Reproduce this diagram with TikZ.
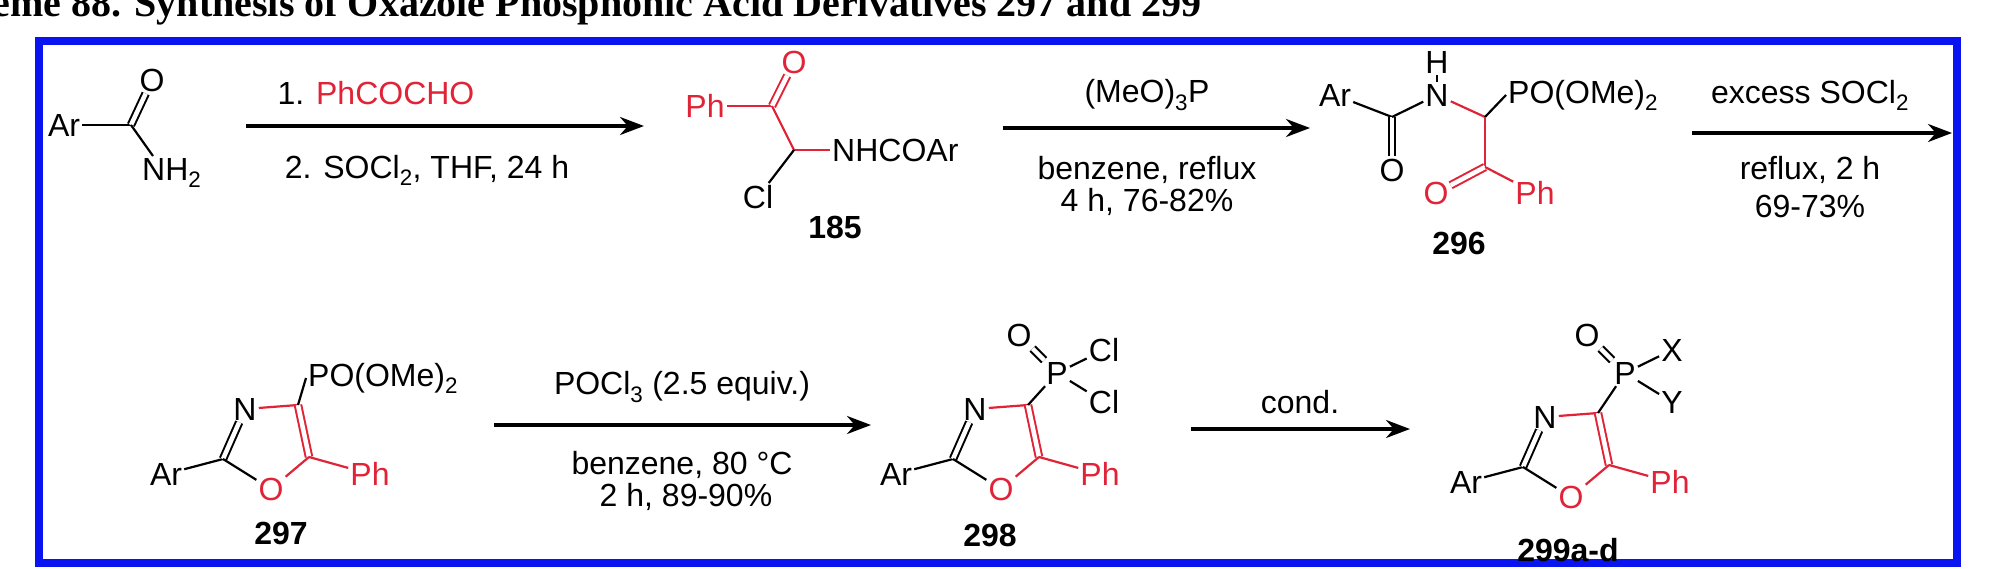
\documentclass[tikz,border=0pt]{standalone}
\usepackage{fontspec}
\setmainfont{Liberation Sans}
\newfontfamily\titlefont{Liberation Serif}
\usetikzlibrary{arrows.meta}
\definecolor{chemred}{RGB}{225,35,55}
\definecolor{frameblue}{RGB}{10,20,240}
\newcommand\fs{\fontsize{32}{36}\selectfont}
\tikzset{
 atom/.style={font=\fs, inner sep=2pt},
 lbl/.style={font=\fs\bfseries, inner sep=0pt},
 cond/.style={font=\fs, inner sep=0pt},
 bond/.style={line width=2.2pt},
 rb/.style={bond, draw=chemred},
 dbl/.style={double, double distance=4.5pt, line width=2pt},
 rxn/.style={line width=3.2pt, -{Stealth[length=24pt,width=18pt]}},
}
\newcommand\oxa[3]{%
\begin{scope}[shift={(#2,#3)}]
 \node[atom] (#1ar) at (1466,482) {Ar};
 \coordinate (#1c2) at (1523,467);
 \node[atom] (#1n) at (1545,417) {N};
 \coordinate (#1c4) at (1598,413);
 \coordinate (#1c5) at (1609,465);
 \node[atom,text=chemred] (#1o) at (1571,497) {O};
 \node[atom,text=chemred] (#1ph) at (1670,482) {Ph};
 \draw[bond] (#1ar)--(#1c2);
 \draw[dbl] (#1c2)--(#1n);
 \draw[rb] (#1n)--(#1c4);
 \draw[dbl,draw=chemred] (#1c4)--(#1c5);
 \draw[rb] (#1c5)--(#1o);
 \draw[bond] (#1o)--(#1c2);
 \draw[rb] (#1c5)--(#1ph);
\end{scope}}
\newcommand\pgrp[5]{%
\begin{scope}[shift={(#2,#3)}]
 \node[atom] (#1p) at (1625,373) {P};
 \node[atom] (#1po) at (1587,335) {O};
 \node[atom] (#1x) at (1672,350) {#4};
 \node[atom] (#1y) at (1672,402) {#5};
\end{scope}
 \draw[bond] (#1c4)--(#1p);
 \draw[dbl] (#1p)--(#1po);
 \draw[bond] (#1p)--(#1x);
 \draw[bond] (#1p)--(#1y);}
\begin{document}
\begin{tikzpicture}[x=1pt,y=-1pt]
\useasboundingbox (0,0) rectangle (1997,568);
\node[font=\titlefont\fontsize{40}{44}\selectfont\bfseries, anchor=base west, inner sep=0pt] (title) at (-70,16) {Scheme 88. Synthesis of Oxazole Phosphonic Acid Derivatives 297 and 299};
\draw[frameblue, line width=8pt] (39,41) rectangle (1957,563);
% amide
\node[atom] (ar1) at (64,125) {Ar};
\coordinate (c1) at (131,125);
\node[atom] (o1) at (152,80) {O};
\node[atom, anchor=west] (n1) at (140,173) {NH\textsubscript{2}};
\coordinate (n1b) at (153,156);
\draw[bond] (ar1)--(c1);
\draw[dbl] (c1)--(o1);
\draw[bond] (c1)--(n1b);
% arrow 1
\coordinate (a1s) at (246,126); \coordinate (a1e) at (644,126);
\draw[rxn] (a1s)--(a1e);
\node[cond] (t1a) at (376,93) {1. \textcolor{chemred}{PhCOCHO}};
\node[cond] (t1b) at (427,170) {2. SOCl\textsubscript{2}, THF, 24 h};
% 185
\node[atom,text=chemred] (ph2) at (705,106) {Ph};
\coordinate (c2) at (772,106);
\node[atom,text=chemred] (o2) at (794,62) {O};
\coordinate (ch2) at (794,150);
\node[atom, anchor=west] (nh2) at (830,150) {NHCOAr};
\node[atom] (cl2) at (758,197) {Cl};
\draw[rb] (ph2)--(c2);
\draw[dbl,draw=chemred] (c2)--(o2);
\draw[rb] (c2)--(ch2);
\draw[rb] (ch2)--(nh2);
\draw[bond] (ch2)--(cl2);
\node[lbl] (l185) at (835,227) {185};
% arrow 2
\coordinate (a2s) at (1003,128); \coordinate (a2e) at (1310,128);
\draw[rxn] (a2s)--(a2e);
\node[cond] (t2a) at (1147,95) {(MeO)\textsubscript{3}P};
\node[cond] (t2b) at (1147,170) {benzene, reflux};
\node[cond] (t2c) at (1147,202) {4 h, 76-82\%};
% 296
\node[atom] (ar3) at (1335,95) {Ar};
\coordinate (c3) at (1392,117);
\node[atom] (o3) at (1392,170) {O};
\node[atom] (n3) at (1437,95) {N};
\node[atom] (h3) at (1437,62) {H};
\coordinate (ch3) at (1485,117);
\node[atom, anchor=west] (po3) at (1506,95) {PO(OMe)\textsubscript{2}};
\coordinate (cc3) at (1485,167);
\node[atom,text=chemred] (oo3) at (1436,193) {O};
\node[atom,text=chemred] (ph3) at (1535,193) {Ph};
\draw[bond] (ar3)--(c3);
\draw[dbl] (c3)--(o3);
\draw[bond] (c3)--(n3);
\draw[bond] (n3)--(h3);
\draw[rb] (n3)--(ch3);
\draw[bond] (ch3)--(po3.west);
\draw[rb] (ch3)--(cc3);
\draw[dbl,draw=chemred] (cc3)--(oo3);
\draw[rb] (cc3)--(ph3);
\node[lbl] (l296) at (1459,243) {296};
% arrow 3
\coordinate (a3s) at (1692,133); \coordinate (a3e) at (1952,133);
\draw[rxn] (a3s)--(a3e);
\node[cond] (t3a) at (1810,95) {excess SOCl\textsubscript{2}};
\node[cond] (t3b) at (1810,170) {reflux, 2 h};
\node[cond] (t3c) at (1810,206) {69-73\%};
% 297
\oxa{q}{-1300}{-8}
\node[atom, anchor=west] (qpo) at (306,378) {PO(OMe)\textsubscript{2}};
\draw[bond] (qc4)--(qpo.west);
\node[lbl] (l297) at (281,533) {297};
% arrow 4
\coordinate (a4s) at (494,425); \coordinate (a4e) at (871,425);
\draw[rxn] (a4s)--(a4e);
\node[cond] (t4a) at (682,387) {POCl\textsubscript{3} (2.5 equiv.)};
\node[cond] (t4b) at (682,465) {benzene, 80 \textdegree C};
\node[cond] (t4c) at (686,497) {2 h, 89-90\%};
% 298
\oxa{r}{-570}{-8}
\pgrp{r}{-568}{0}{Cl}{Cl}
\node[lbl] (l298) at (990,535) {298};
% arrow 5
\coordinate (a5s) at (1191,429); \coordinate (a5e) at (1410,429);
\draw[rxn] (a5s)--(a5e);
\node[cond] (t5a) at (1300,402) {cond.};
% 299
\oxa{s}{0}{0}
\pgrp{s}{0}{0}{X}{Y}
\node[lbl] (l299) at (1568,550) {299a-d};
\end{tikzpicture}
\end{document}
